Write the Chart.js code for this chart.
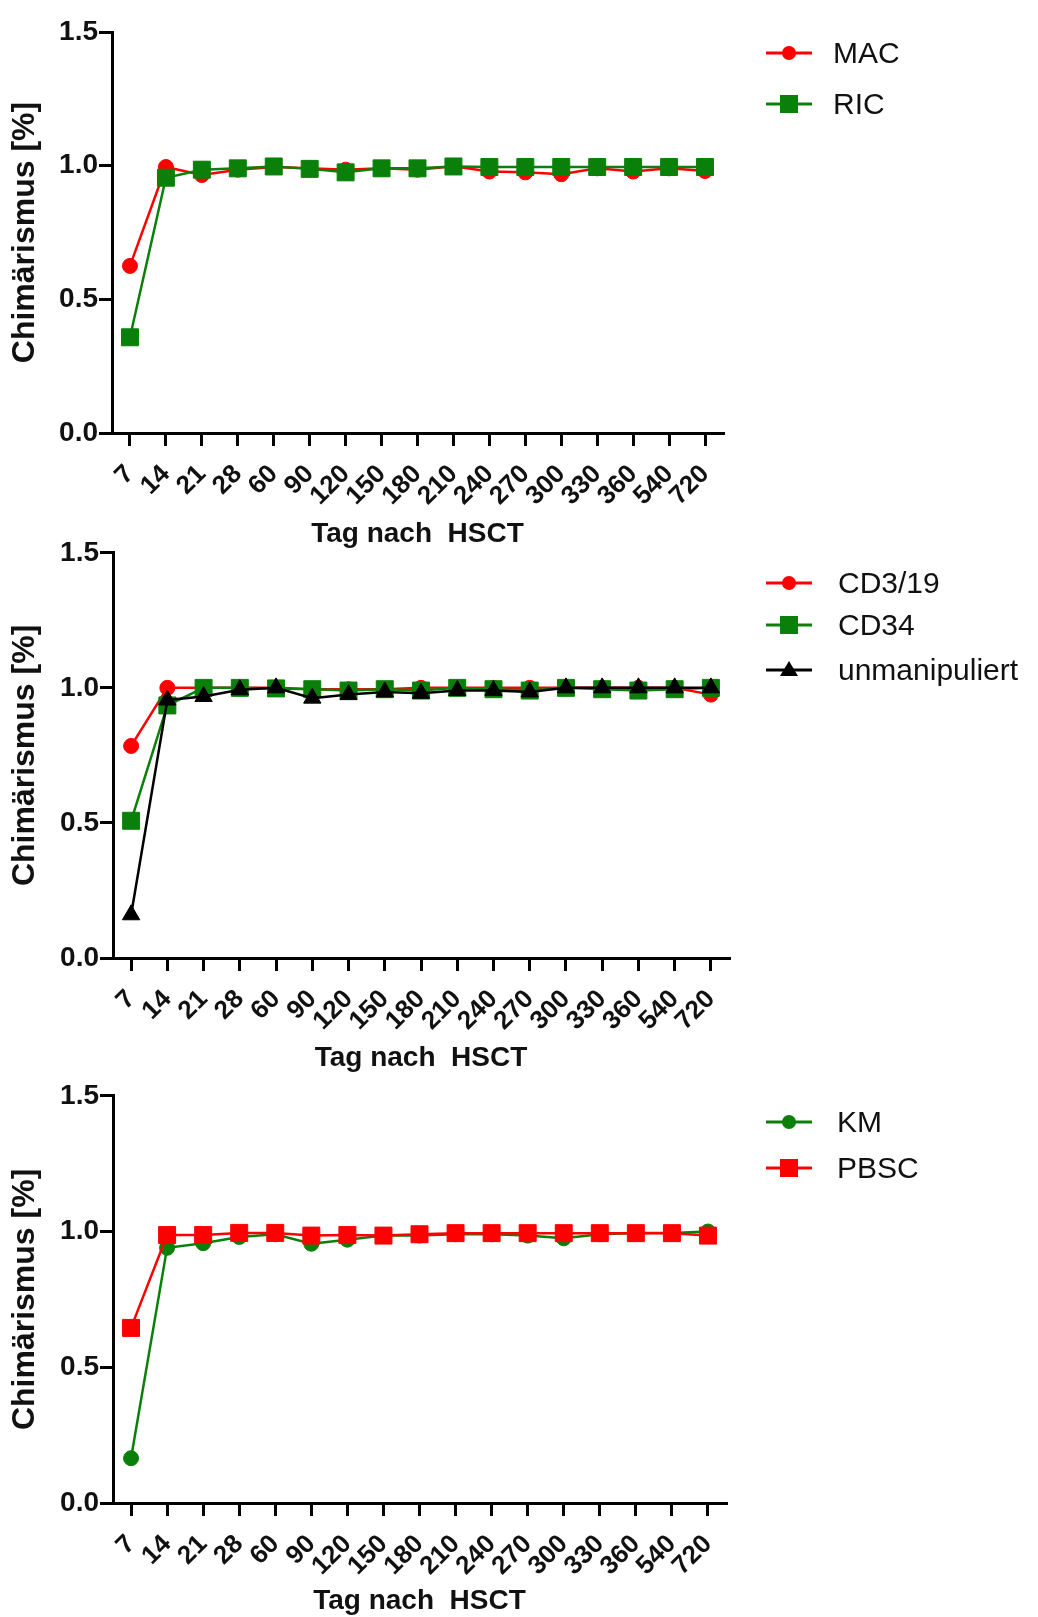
<!DOCTYPE html>
<html>
<head>
<meta charset="utf-8">
<script src="https://cdn.jsdelivr.net/npm/chart.js@4.4.0/dist/chart.umd.min.js"></script>
<style>
  body { margin: 0; background: #fff; width: 1038px; height: 1617px; position: relative; overflow: hidden; }
  canvas { position: absolute; left: 0; }
</style>
</head>
<body>
<canvas id="c1" width="1038" height="550" style="top:0px"></canvas>
<canvas id="c2" width="1038" height="545" style="top:535px"></canvas>
<canvas id="c3" width="1038" height="539" style="top:1078px"></canvas>
<script>
// days after transplant (x categories)
const days = ["7", "14", "21", "28", "60", "90", "120", "150", "180", "210", "240", "270", "300", "330", "360", "540", "720"];
const yTicks = [0, 0.5, 1.0, 1.5];

// panel 1: conditioning
const mac = [0.625, 0.995, 0.965, 0.985, 0.995, 0.99, 0.985, 0.99, 0.985, 0.998, 0.978, 0.975, 0.968, 0.99, 0.978, 0.99, 0.98];
const ric = [0.358, 0.955, 0.985, 0.99, 0.997, 0.988, 0.975, 0.99, 0.99, 0.997, 0.995, 0.995, 0.995, 0.995, 0.995, 0.995, 0.995];

// panel 2: graft manipulation
const cd319 = [0.785, 1.0, 1.0, 1.0, 1.0, 0.995, 0.995, 0.995, 1.0, 1.0, 1.0, 1.0, 1.0, 1.0, 1.0, 1.0, 0.975];
const cd34 = [0.508, 0.935, 1.0, 1.0, 0.998, 0.995, 0.99, 0.995, 0.99, 1.0, 0.995, 0.99, 1.0, 0.995, 0.99, 0.995, 1.0];
const unman = [0.16, 0.955, 0.968, 0.993, 1.0, 0.962, 0.975, 0.985, 0.98, 0.99, 0.99, 0.985, 1.0, 1.0, 1.0, 1.0, 1.0];

// panel 3: stem cell source
const km = [0.165, 0.94, 0.957, 0.98, 0.99, 0.955, 0.97, 0.985, 0.985, 0.99, 0.99, 0.985, 0.975, 0.99, 0.995, 0.995, 1.0];
const pbsc = [0.645, 0.987, 0.987, 0.995, 0.995, 0.985, 0.987, 0.985, 0.99, 0.994, 0.994, 0.994, 0.994, 0.994, 0.994, 0.994, 0.985];

const RED = "#ff0000";
const GREEN = "#0a800a";
const BLACK = "#000000";
const FONT = "'Liberation Sans', Arial, sans-serif";

function series(label, data, color, style, radius, order) {
  return {
    label: label,
    data: data,
    borderColor: color,
    backgroundColor: color,
    borderWidth: 2.5,
    pointStyle: style,
    pointRadius: radius,
    pointBorderWidth: 1,
    order: order,
    tension: 0,
  };
}

// draws a line + marker legend to the right of the plot
const lineLegend = {
  id: "lineLegend",
  afterDraw(chart, args, opts) {
    const ctx = chart.ctx;
    ctx.save();
    chart.data.datasets.forEach(function (ds, i) {
      const y = opts.ys[i];
      const cx = (opts.x1 + opts.x2) / 2;
      ctx.strokeStyle = ds.borderColor;
      ctx.fillStyle = ds.borderColor;
      ctx.lineWidth = 3;
      ctx.beginPath();
      ctx.moveTo(opts.x1, y);
      ctx.lineTo(opts.x2, y);
      ctx.stroke();
      ctx.beginPath();
      if (ds.pointStyle === "circle") {
        ctx.arc(cx, y, 7, 0, Math.PI * 2);
      } else if (ds.pointStyle === "rect") {
        ctx.rect(cx - 9, y - 9, 18, 18);
      } else {
        ctx.moveTo(cx, y - 9);
        ctx.lineTo(cx + 9, y + 6);
        ctx.lineTo(cx - 9, y + 6);
        ctx.closePath();
      }
      ctx.fill();
      ctx.fillStyle = "#111";
      ctx.font = "30px " + FONT;
      ctx.textBaseline = "middle";
      ctx.textAlign = "left";
      ctx.fillText(ds.label, opts.textX, y + 2);
    });
    ctx.restore();
  },
};

function makeChart(id, datasets, g) {
  const canvas = document.getElementById(id);
  const H = canvas.height;
  const xAxisH = H - (g.bottom - g.top);
  const titleLH = 28 * 1.2;
  return new Chart(canvas.getContext("2d"), {
    type: "line",
    data: { labels: days, datasets: datasets },
    options: {
      responsive: false,
      animation: false,
      layout: { padding: { top: g.plotTop - g.top, left: 0, right: 1038 - g.right, bottom: 0 } },
      plugins: {
        legend: { display: false },
        tooltip: { enabled: false },
        lineLegend: { x1: 766, x2: 812, textX: g.textX, ys: g.legendY.map((v) => v - g.top) },
      },
      scales: {
        x: {
          offset: true,
          afterFit: function (scale) { scale.height = xAxisH; },
          border: { color: BLACK, width: 3 },
          grid: { offset: false, drawOnChartArea: false, color: BLACK, lineWidth: 3, tickLength: 13 },
          ticks: {
            autoSkip: false,
            maxRotation: 45,
            minRotation: 45,
            padding: 13,
            color: "#111",
            font: { family: FONT, size: 26, weight: "bold" },
          },
          title: {
            display: true,
            text: "Tag nach  HSCT",
            color: "#111",
            font: { family: FONT, size: 28, weight: "bold" },
            padding: { top: 0, bottom: H - (g.titleY - g.top) - titleLH / 2 },
          },
        },
        y: {
          min: 0,
          max: 1.5,
          afterFit: function (scale) { scale.width = g.left; },
          afterBuildTicks: function (scale) { scale.ticks = yTicks.map((v) => ({ value: v })); },
          border: { color: BLACK, width: 3 },
          grid: { drawOnChartArea: false, color: BLACK, lineWidth: 3, tickLength: 13 },
          ticks: {
            padding: 1,
            color: "#111",
            font: { family: FONT, size: 28, weight: "bold" },
            callback: (v) => Number(v).toFixed(1),
          },
          title: {
            display: true,
            text: "Chimärismus [%]",
            color: "#111",
            font: { family: FONT, size: 32, weight: "bold" },
            padding: { top: 6, bottom: 0 },
          },
        },
      },
    },
    plugins: [lineLegend],
  });
}

makeChart("c1", [
  series("MAC", mac, RED, "circle", 7.5, 1),
  series("RIC", ric, GREEN, "rect", 12, 0),
], { top: 0, plotTop: 32, bottom: 433, left: 112, right: 723, titleY: 534, textX: 833, legendY: [53, 104] });

makeChart("c2", [
  series("CD3/19", cd319, RED, "circle", 7.5, 2),
  series("CD34", cd34, GREEN, "rect", 12, 1),
  series("unmanipuliert", unman, BLACK, "triangle", 10, 0),
], { top: 535, plotTop: 552, bottom: 958, left: 113, right: 729, titleY: 1058, textX: 838, legendY: [583, 625, 670] });

makeChart("c3", [
  series("KM", km, GREEN, "circle", 7.5, 1),
  series("PBSC", pbsc, RED, "rect", 12, 0),
], { top: 1078, plotTop: 1095, bottom: 1503, left: 113, right: 726, titleY: 1601, textX: 837, legendY: [1122, 1168] });
</script>
</body>
</html>
